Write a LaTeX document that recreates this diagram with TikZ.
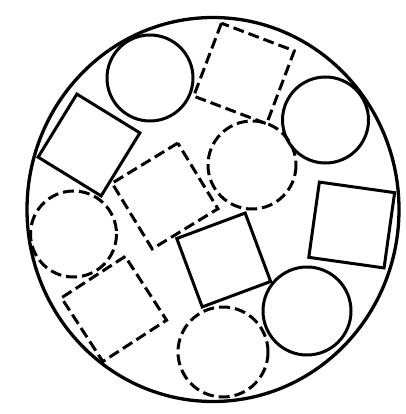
\documentclass[tikz,border=0pt]{standalone}
\usetikzlibrary{arrows.meta}

\tikzset{
  solid line/.style={line width=3pt},
  dashed line/.style={line width=3pt, dash pattern=on 11pt off 5pt},
}

\begin{document}
\begin{tikzpicture}[x=1pt, y=-1pt, line join=miter]
  \useasboundingbox (0,0) rectangle (405,414);
  % outer disc
  \draw[line width=3.3pt] (213,209.5) ellipse (186 and 192);
  % solid circles
  \draw[solid line] (150,78) circle (43);
  \draw[solid line] (325.5,120) circle (43);
  \draw[solid line] (307,311) circle (44);
  % dashed circles
  \draw[dashed line] (252,165) circle (44);
  \draw[dashed line] (73.5,234) circle (43);
  \draw[dashed line] (223,352) circle (45);
  % solid squares: centre/angle/side
  \foreach \cx/\cy/\ang/\side in {89/145/-31.6/74, 351.7/225/-8/76, 223.7/260/20.4/73}
    \draw[solid line, shift={(\cx,\cy)}, rotate=\ang]
      (-\side/2,-\side/2) rectangle (\side/2,\side/2);
  % dashed squares
  \foreach \cx/\cy/\ang/\side in {244/73.5/-20.8/78, 165/196/-58.6/77, 114/309/-57/76}
    \draw[dashed line, shift={(\cx,\cy)}, rotate=\ang]
      (-\side/2,-\side/2) rectangle (\side/2,\side/2);
\end{tikzpicture}
\end{document}
